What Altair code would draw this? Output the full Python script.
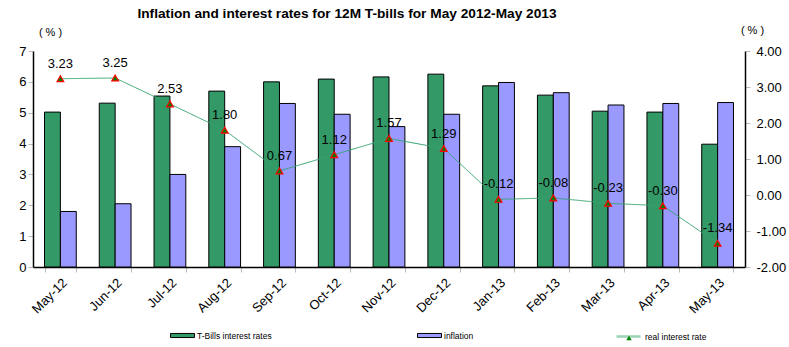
import altair as alt
import pandas as pd

months = ["May-12", "Jun-12", "Jul-12", "Aug-12", "Sep-12", "Oct-12", "Nov-12",
          "Dec-12", "Jan-13", "Feb-13", "Mar-13", "Apr-13", "May-13"]
tbills = [5.02, 5.31, 5.54, 5.70, 6.00, 6.09, 6.16, 6.25, 5.87, 5.57, 5.05, 5.02, 3.98]
inflation = [1.80, 2.05, 3.00, 3.90, 5.30, 4.95, 4.55, 4.95, 5.98, 5.65, 5.25, 5.30, 5.33]
real_rate = [3.23, 3.25, 2.53, 1.80, 0.67, 1.12, 1.57, 1.29, -0.12, -0.08, -0.23, -0.30, -1.34]

series_names = ["T-Bills interest rates", "inflation"]
line_name = "real interest rate"

bars_df = pd.DataFrame({
    "month": months * 2,
    "series": [series_names[0]] * len(months) + [series_names[1]] * len(months),
    "value": tbills + inflation,
})
line_df = pd.DataFrame({
    "month": months,
    "real": real_rate,
    "label": [f"{v:.2f}" for v in real_rate],
    "series": [line_name] * len(months),
    "marker": ["marker"] * len(months),
})

FONT = "Liberation Sans"
GREEN = "#339966"
PURPLE = "#9999FF"
LINE = "#35A46E"

xenc = alt.X("month:N", sort=months,
             scale=alt.Scale(paddingInner=0.42, paddingOuter=0.21),
             axis=alt.Axis(title=None, labelAngle=-45, labelFontSize=13,
                           labelColor="black", domainColor="black",
                           tickColor="#BBBBBB", tickSize=5, tickBand="extent",
                           labelPadding=4))

bars = alt.Chart(bars_df).mark_bar(stroke="black", strokeWidth=1).encode(
    x=xenc,
    xOffset=alt.XOffset("series:N", sort=series_names),
    y=alt.Y("value:Q", scale=alt.Scale(domain=[0, 7]),
            axis=alt.Axis(values=[0, 1, 2, 3, 4, 5, 6, 7], title="( % )",
                          titleAngle=0, titleX=17, titleY=-19,
                          titleAlign="center", titleBaseline="middle",
                          titleFontWeight="normal", titleFontSize=11,
                          labelFontSize=13, labelColor="black",
                          domainColor="black", tickColor="#BBBBBB",
                          tickSize=5, grid=False)),
    color=alt.Color("series:N",
                    scale=alt.Scale(domain=series_names, range=[GREEN, PURPLE]),
                    legend=alt.Legend(title=None, orient="none", legendX=137,
                                      legendY=272, direction="horizontal",
                                      columns=2, columnPadding=143,
                                      symbolType="M-1,-0.17H1V0.17H-1Z",
                                      symbolSize=576, symbolStrokeColor="black",
                                      symbolStrokeWidth=1, labelFontSize=8.5,
                                      labelOffset=2, padding=0)),
)

yr = alt.Y("real:Q", scale=alt.Scale(domain=[-2, 4]),
           axis=alt.Axis(orient="right", values=[-2, -1, 0, 1, 2, 3, 4],
                         labelExpr="replace(format(datum.value, '.2f'), '\u2212', '-')",
                         title="( % )", titleAngle=0, titleX=7, titleY=-21,
                         titleAlign="center", titleBaseline="middle",
                         titleFontWeight="normal", titleFontSize=11,
                         labelFontSize=13, labelColor="black", labelPadding=6,
                         domainColor="black", tickColor="#BBBBBB",
                         tickSize=5, grid=False))

line = alt.Chart(line_df).mark_line(color=LINE, strokeWidth=1).encode(
    x=alt.X("month:N", sort=months),
    y=yr,
    strokeDash=alt.StrokeDash("series:N",
                              scale=alt.Scale(domain=[line_name], range=[[1, 0]]),
                              legend=alt.Legend(title=None, orient="none",
                                                legendX=582, legendY=272,
                                                symbolType="stroke",
                                                symbolSize=576,
                                                symbolStrokeColor="#99D4B4",
                                                symbolStrokeWidth=2.5,
                                                labelFontSize=8.5,
                                                labelOffset=3, padding=0)),
)

points = alt.Chart(line_df).mark_point(filled=True, fill="#008000", stroke="#FF0000",
                                       strokeWidth=1.2, opacity=1, size=45).encode(
    x=alt.X("month:N", sort=months),
    y=yr,
    shape=alt.Shape("marker:N",
                    scale=alt.Scale(domain=["marker"], range=["triangle-up"]),
                    legend=alt.Legend(title=None, orient="none",
                                      legendX=591, legendY=282,
                                      symbolSize=30, symbolFillColor="#008000",
                                      symbolStrokeColor="#FF0000",
                                      symbolStrokeWidth=1,
                                      labelExpr="''", padding=0)),
)

labels = alt.Chart(line_df).mark_text(fontSize=13, dy=-15, color="black",
                                      font=FONT).encode(
    x=alt.X("month:N", sort=months),
    y=yr,
    text="label:N",
)

right = alt.layer(line, points, labels)

chart = alt.layer(bars, right).resolve_scale(
    y="independent", color="independent", shape="independent",
    strokeDash="independent"
).properties(
    width=712, height=216,
    autosize=alt.AutoSizeParams(type="none"),
    padding={"left": 33, "top": 51, "right": 44, "bottom": 80},
    title=alt.TitleParams(
        "Inflation and interest rates for 12M T-bills for May 2012-May 2013",
        fontSize=13.7, font=FONT, fontWeight="bold", anchor="middle",
        dx=-42, offset=3, color="black"),
).configure(font=FONT).configure_view(stroke=None).configure_axis(
    labelFont=FONT, titleFont=FONT, domainWidth=1.5
).configure_legend(labelFont=FONT, labelColor="black")

chart.save("out.html", embed_options={"renderer": "svg", "actions": False})
